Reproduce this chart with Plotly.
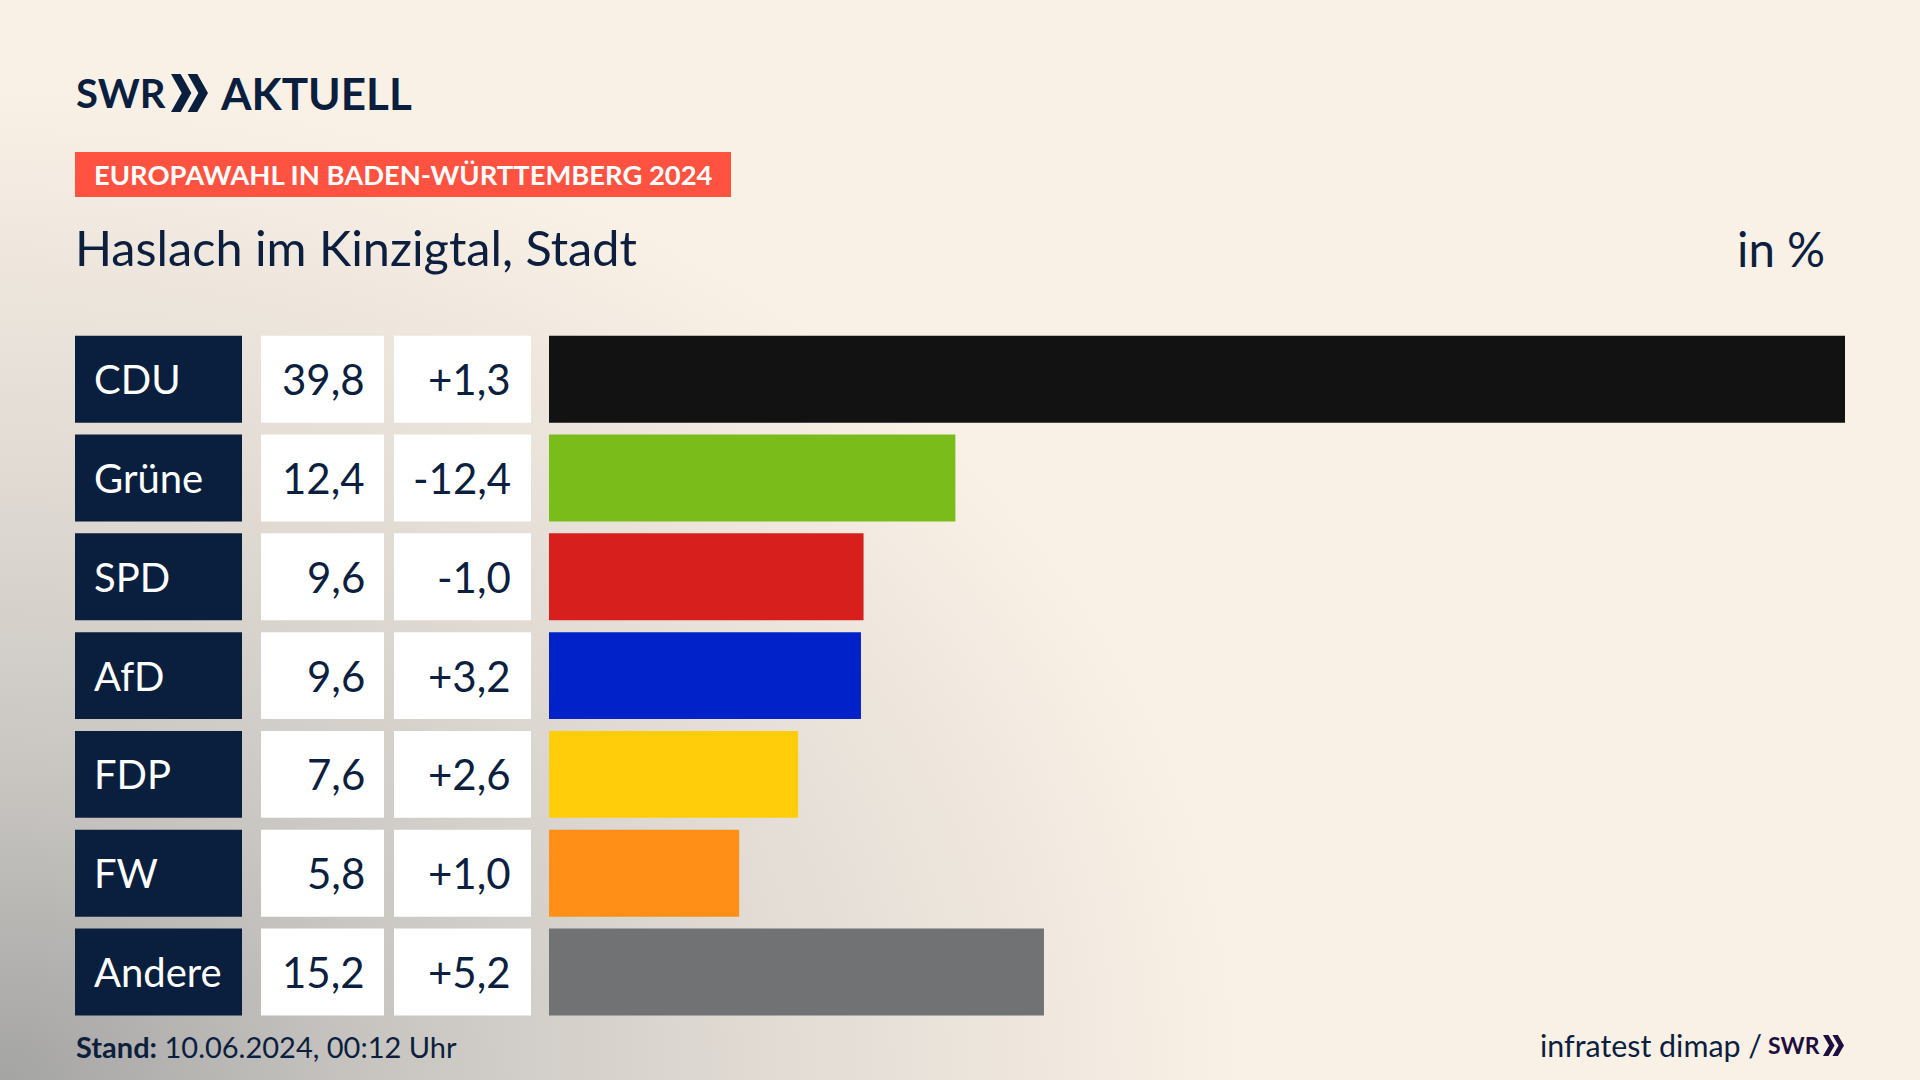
import base64
import plotly.graph_objects as go

W, H = 1920, 1080

parties = ['CDU', 'Grüne', 'SPD', 'AfD', 'FDP', 'FW', 'Andere']
bar_values = [39.8, 12.48, 9.66, 9.58, 7.65, 5.84, 15.2]
value_labels = ['39,8', '12,4', '9,6', '9,6', '7,6', '5,8', '15,2']
change_labels = ['+1,3', '-12,4', '-1,0', '+3,2', '+2,6', '+1,0', '+5,2']
bar_colors = ['#121212', '#7ABD1A', '#D7201E', '#0022C8', '#FFCD0A', '#FF8F16', '#707274']

NAVY = '#0A1F3E'
TEXT = '#0C1F3F'
FONT = 'Lato'


def px(x):
    return x / W


def py(y):
    return 1 - y / H


def label(x, y, text, size, color=TEXT, anchor='left', family=FONT, yref='paper'):
    return dict(x=px(x), y=y if yref != 'paper' else py(y), xref='paper', yref=yref, text=text,
                showarrow=False, xanchor=anchor, yanchor='middle',
                font=dict(family=family, size=size, color=color))


def chevrons(x0, y0, w, h, color):
    # two arrow heads side by side, used in the SWR logo
    cw = w * 0.55
    t = w * 0.26
    out = []
    for x in (x0, x0 + w - cw):
        path = 'M{} {} L{} {} L{} {} L{} {} L{} {} L{} {} Z'.format(
            px(x), py(y0), px(x + t), py(y0), px(x + cw), py(y0 + h / 2),
            px(x + t), py(y0 + h), px(x), py(y0 + h), px(x + cw - t), py(y0 + h / 2))
        out.append(dict(type='path', xref='paper', yref='paper', path=path,
                        fillcolor=color, line_width=0, layer='above'))
    return out


# background wash, dark in the lower left corner
svg = '''<svg xmlns="http://www.w3.org/2000/svg" width="1920" height="1080">
<defs>
<radialGradient id="a" gradientUnits="userSpaceOnUse" cx="0" cy="0" r="1"
 gradientTransform="translate(0 1080) scale(1250 1000)">
<stop offset="0" stop-color="#A4A4A3"/>
<stop offset="0.3" stop-color="#C8C5C1"/>
<stop offset="0.6" stop-color="#E0DAD3"/>
<stop offset="1" stop-color="#FAF1E6"/>
</radialGradient>
</defs>
<rect width="1920" height="1080" fill="url(#a)"/>
</svg>'''
bg_uri = 'data:image/svg+xml;base64,' + base64.b64encode(svg.encode()).decode()

fig = go.Figure()

# the real bars
fig.add_trace(go.Bar(y=parties, x=bar_values, orientation='h', marker_color=bar_colors,
                     marker_line_width=0, xaxis='x', yaxis='y', showlegend=False))
# name, value and change boxes are full width bars on their own small axes
fig.add_trace(go.Bar(y=parties, x=[1] * 7, orientation='h', marker_color=NAVY,
                     marker_line_width=0, xaxis='x2', yaxis='y', showlegend=False))
fig.add_trace(go.Bar(y=parties, x=[1] * 7, orientation='h', marker_color='white',
                     marker_line_width=0, xaxis='x3', yaxis='y', showlegend=False))
fig.add_trace(go.Bar(y=parties, x=[1] * 7, orientation='h', marker_color='white',
                     marker_line_width=0, xaxis='x4', yaxis='y', showlegend=False))

hidden = dict(visible=False, fixedrange=True)
annotations = []
for party, val, chg in zip(parties, value_labels, change_labels):
    annotations.append(label(92, party, party, 40, 'white', yref='y'))
    annotations.append(label(367, party, val, 42, anchor='right', yref='y'))
    annotations.append(label(513, party, chg, 42, anchor='right', yref='y'))

annotations += [
    label(74, 93, '<b>SWR</b>', 40, NAVY),
    label(218, 93, '<b>AKTUELL</b>', 44, NAVY),
    label(92, 175, '<b>EUROPAWAHL IN BADEN-WÜRTTEMBERG 2024</b>', 27.4, 'white'),
    label(73, 247, 'Haslach im Kinzigtal, Stadt', 48.6),
    label(1827, 248, 'in %', 47.5, anchor='right'),
    label(74, 1046, '<b>Stand:</b> 10.06.2024, 00:12 Uhr', 29),
    label(1764, 1045, 'infratest dimap /', 30.4, anchor='right'),
    label(1766, 1045, '<b>SWR</b>', 23, '#1F0F3F'),
]

shapes = [dict(type='rect', xref='paper', yref='paper', x0=px(75), x1=px(731), y0=py(152), y1=py(197),
               fillcolor='#FF5240', line_width=0, layer='below')]
shapes += chevrons(171, 74, 37, 38, NAVY)
shapes += chevrons(1823, 1035, 21, 21, '#1F0F3F')

fig.update_layout(
    width=W, height=H,
    margin=dict(l=0, r=0, t=0, b=0),
    paper_bgcolor='#FAF1E6',
    plot_bgcolor='rgba(0,0,0,0)',
    bargap=0.12,
    xaxis=dict(domain=[px(549), px(1845)], range=[0, 39.8], anchor='y', **hidden),
    xaxis2=dict(domain=[px(75), px(242)], range=[0, 1], anchor='y', **hidden),
    xaxis3=dict(domain=[px(261), px(384)], range=[0, 1], anchor='y', **hidden),
    xaxis4=dict(domain=[px(394), px(531)], range=[0, 1], anchor='y', **hidden),
    yaxis=dict(domain=[py(1021.4), py(329.8)], categoryorder='array', categoryarray=parties,
               autorange='reversed', **hidden),
    annotations=annotations,
    shapes=shapes,
    images=[dict(source=bg_uri, xref='paper', yref='paper', x=0, y=1, sizex=1, sizey=1,
                 sizing='stretch', xanchor='left', yanchor='top', layer='below')],
)

fig.write_html("out.html", config=dict(displayModeBar=False),
               post_script="document.body.style.margin='0';")
